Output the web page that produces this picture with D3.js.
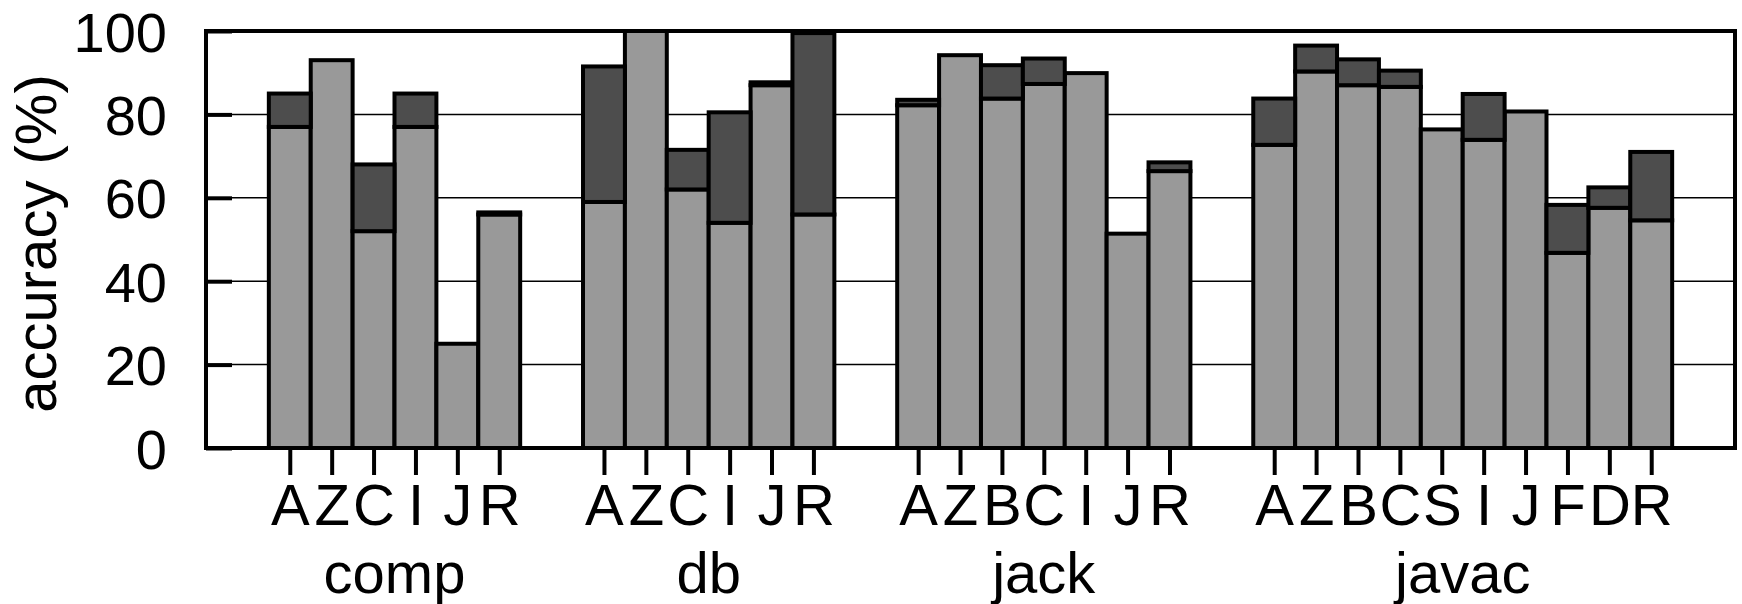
<!DOCTYPE html>
<html>
  <head>
    <meta charset='utf-8'>
    <script src='https://d3js.org/d3.v7.min.js'></script>
    <style>
body {
  margin: 0;
  background: #fff;
}
text {
  font-family: 'Liberation Sans', Arial, Helvetica, sans-serif;
  fill: #000;
}
    </style>
  </head>
  <body>
    <div id='chart'></div>
    <script>
        // benchmarks and their per-bar values (light = lower part, high = top of dark part)
        const groupNames = ['comp', 'db', 'jack', 'javac'];

        const compBars = ['A', 'Z', 'C', 'I', 'J', 'R'];
        const compLow  = [77, 93, 52, 77, 25, 56];
        const compHigh = [85, 93, 68, 85, 25, 56.5];

        const dbBars = ['A', 'Z', 'C', 'I', 'J', 'R'];
        const dbLow  = [59, 100, 62, 54, 87, 56];
        const dbHigh = [91.5, 100, 71.5, 80.5, 87.7, 99.5];

        const jackBars = ['A', 'Z', 'B', 'C', 'I', 'J', 'R'];
        const jackLow  = [82.2, 94.2, 83.8, 87.3, 89.9, 51.4, 66.4];
        const jackHigh = [83.5, 94.2, 91.8, 93.4, 89.9, 51.4, 68.5];

        const javacBars = ['A', 'Z', 'B', 'C', 'S', 'I', 'J', 'F', 'D', 'R'];
        const javacLow  = [72.7, 90.3, 87, 86.6, 76.4, 73.9, 80.7, 46.8, 57.6, 54.6];
        const javacHigh = [83.8, 96.5, 93.2, 90.5, 76.4, 84.9, 80.7, 58.3, 62.5, 71];

        const yTicks = [0, 20, 40, 60, 80, 100];

        const groupBars = [compBars, dbBars, jackBars, javacBars];
        const groupLow = [compLow, dbLow, jackLow, javacLow];
        const groupHigh = [compHigh, dbHigh, jackHigh, javacHigh];

        const width = 1742, height = 604;
        const margin = { left: 206, right: 7, top: 31, bottom: 156 };
        const gap = 1.5; // space between clusters, in bar slots
        const lightGray = '#999999', darkGray = '#4d4d4d';

        // lay the bars out on one slot axis
        var bars = [], groups = [];
        var pos = gap;
        groupNames.forEach(function(name, g) {
            var start = pos;
            groupBars[g].forEach(function(lab, i) {
                bars.push({ label: lab, slot: pos, low: groupLow[g][i], high: groupHigh[g][i] });
                pos += 1;
            });
            groups.push({ name: name, center: (start + pos) / 2 });
            pos += gap;
        });

        const svg = d3.select('#chart').append('svg')
            .attr('width', width)
            .attr('height', height);

        const x = d3.scaleLinear()
            .domain([0, pos])
            .range([margin.left, width - margin.right]);
        const y = d3.scaleLinear()
            .domain([0, 100])
            .range([height - margin.bottom, margin.top]);

        // grid lines
        svg.append('g')
            .selectAll('line')
            .data(yTicks.filter(function(d) { return d > 0 && d < 100; }))
            .join('line')
            .attr('x1', x(0)).attr('x2', x(pos))
            .attr('y1', d => y(d)).attr('y2', d => y(d))
            .attr('stroke', '#000')
            .attr('stroke-width', 1.5);

        const barW = x(1) - x(0);

        // lower (light) part
        svg.append('g')
            .selectAll('rect')
            .data(bars)
            .join('rect')
            .attr('x', d => x(d.slot))
            .attr('width', barW)
            .attr('y', d => y(d.low))
            .attr('height', d => y(0) - y(d.low))
            .attr('fill', lightGray)
            .attr('stroke', '#000')
            .attr('stroke-width', 4);

        // upper (dark) part
        svg.append('g')
            .selectAll('rect')
            .data(bars.filter(d => d.high > d.low))
            .join('rect')
            .attr('x', d => x(d.slot))
            .attr('width', barW)
            .attr('y', d => y(d.high))
            .attr('height', d => y(d.low) - y(d.high))
            .attr('fill', darkGray)
            .attr('stroke', '#000')
            .attr('stroke-width', 4);

        // frame
        svg.append('rect')
            .attr('x', x(0))
            .attr('y', y(100))
            .attr('width', x(pos) - x(0))
            .attr('height', y(0) - y(100))
            .attr('fill', 'none')
            .attr('stroke', '#000')
            .attr('stroke-width', 4);

        // y axis, ticks pointing inward
        const yAxis = svg.append('g')
            .attr('transform', 'translate(' + x(0) + ',0)')
            .call(d3.axisLeft(y).tickValues(yTicks).tickSize(-26).tickPadding(39));
        yAxis.select('.domain').remove();
        yAxis.selectAll('line').attr('stroke', '#000').attr('stroke-width', 4);
        yAxis.selectAll('text')
            .attr('font-size', 56)
            .attr('dy', '0.36em')
            .attr('font-family', "'Liberation Sans', Arial, sans-serif")
            .attr('fill', '#000');

        // x axis, one tick per bar
        const xAxis = svg.append('g')
            .attr('transform', 'translate(0,' + y(0) + ')')
            .call(d3.axisBottom(x)
                .tickValues(bars.map(d => d.slot + 0.5))
                .tickFormat(function(d, i) { return bars[i].label; })
                .tickSize(27)
                .tickPadding(9));
        xAxis.select('.domain').remove();
        xAxis.selectAll('line').attr('stroke', '#000').attr('stroke-width', 4);
        xAxis.selectAll('text')
            .attr('font-size', 58)
            .attr('font-family', "'Liberation Sans', Arial, sans-serif")
            .attr('fill', '#000');

        // cluster names
        svg.append('g')
            .selectAll('text')
            .data(groups)
            .join('text')
            .attr('x', d => x(d.center))
            .attr('y', 593)
            .attr('text-anchor', 'middle')
            .attr('font-size', 58)
            .text(d => d.name);

        // y axis title
        svg.append('text')
            .attr('transform', 'translate(56,' + ((y(0) + y(100)) / 2 + 4) + ') rotate(-90)')
            .attr('text-anchor', 'middle')
            .attr('font-size', 58)
            .text('accuracy (%)');
    </script>
  </body>
</html>
